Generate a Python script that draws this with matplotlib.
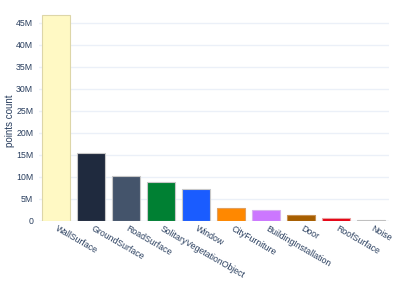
import matplotlib
matplotlib.use("Agg")
import matplotlib.pyplot as plt

categories = ["WallSurface", "GroundSurface", "RoadSurface", "SolitaryVegetationObject",
              "Window", "CityFurniture", "BuildingInstallation", "Door", "RoofSurface", "Noise"]
counts_m = [46.8, 15.4, 10.2, 8.85, 7.3, 2.95, 2.5, 1.3, 0.7, 0.25]
colors = ["#fff9c4", "#1f2a3e", "#44546b", "#008033", "#1a5cff", "#ff8800",
          "#cc77ff", "#a65e00", "#e60012", "#9e9e9e"]
edge_colors = ["#ddd6a8", "#c8c8c8", "#c8c8c8", "#c8c8c8", "#c8c8c8", "#e0a060",
               "#d8b0f0", "#c89050", "#e8a0a0", "#c0c0c0"]
yticks = [0, 5, 10, 15, 20, 25, 30, 35, 40, 45]
ytick_labels = ["0", "5M", "10M", "15M", "20M", "25M", "30M", "35M", "40M", "45M"]

plt.rcParams['font.family'] = ['Liberation Sans', 'DejaVu Sans']
txt = "#2a3f5f"

fig = plt.figure(figsize=(3.97, 2.83), dpi=100)
ax = fig.add_axes([38.8/397, 62/283, 350/397, 217/283])
x = list(range(len(categories)))
ax.bar(x, counts_m, width=0.8, color=colors, edgecolor=edge_colors, linewidth=0.8, zorder=3)
ax.set_xlim(-0.5, len(categories) - 0.5)
ax.set_ylim(0, 49.3)
ax.set_yticks(yticks)
ax.set_yticklabels(ytick_labels)
ax.yaxis.grid(True, color="#ebf0f8", linewidth=1, zorder=0)
ax.axhline(0, color="#ebf0f8", linewidth=1, zorder=1)
for s in ax.spines.values():
    s.set_visible(False)
ax.tick_params(axis='both', length=0, colors=txt, labelsize=6.3)
ax.tick_params(axis='y', pad=4)
ax.set_xticks(x)
ax.set_xticklabels(categories, rotation=-30, ha='left', va='center', rotation_mode='anchor')
ax.tick_params(axis='x', pad=5)
ax.set_ylabel("points count", color=txt, fontsize=7)
ax.yaxis.set_label_coords(-0.068, 0.46)
fig.savefig("out.png", dpi=100, facecolor="white")
